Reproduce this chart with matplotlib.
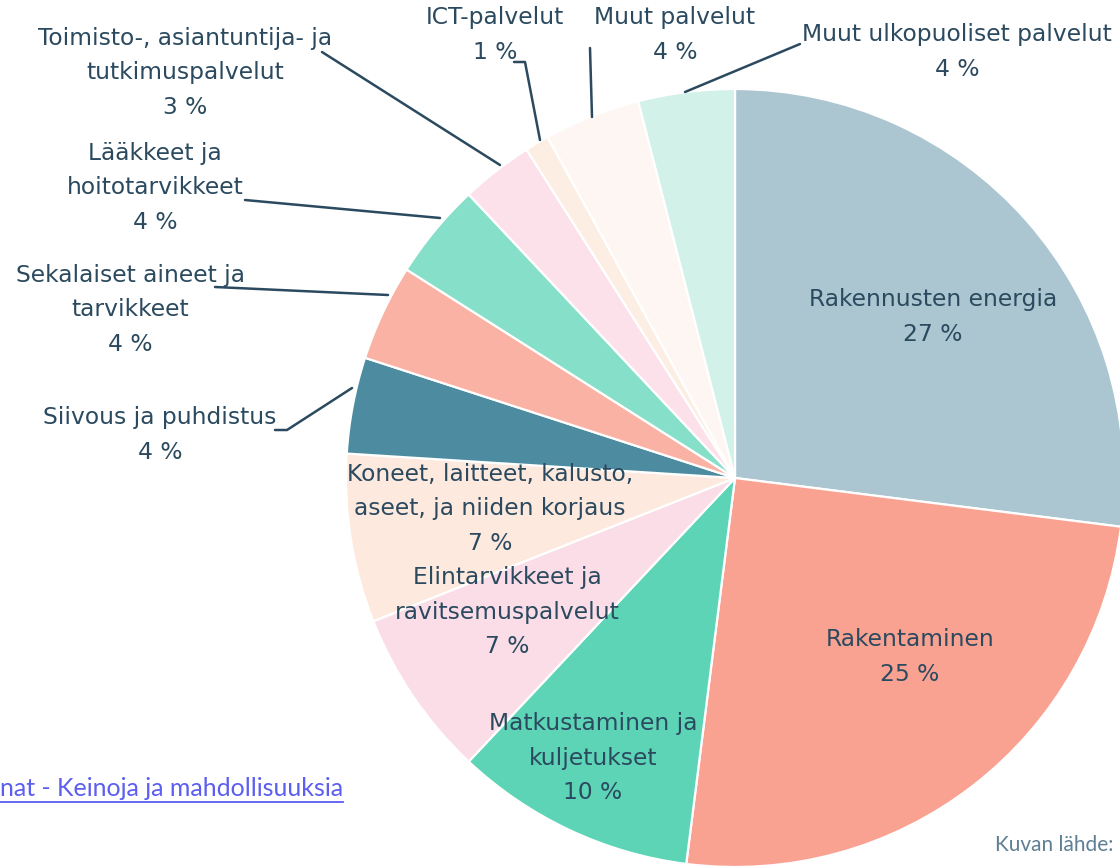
import matplotlib
matplotlib.use("Agg")
import matplotlib.pyplot as plt

# ---- data ----
categories = [
    "Rakennusten energia",
    "Rakentaminen",
    "Matkustaminen ja\nkuljetukset",
    "Elintarvikkeet ja\nravitsemuspalvelut",
    "Koneet, laitteet, kalusto,\naseet, ja niiden korjaus",
    "Siivous ja puhdistus",
    "Sekalaiset aineet ja\ntarvikkeet",
    "Lääkkeet ja\nhoitotarvikkeet",
    "Toimisto-, asiantuntija- ja\ntutkimuspalvelut",
    "ICT-palvelut",
    "Muut palvelut",
    "Muut ulkopuoliset palvelut",
]
shares = [27, 25, 10, 7, 7, 4, 4, 4, 3, 1, 4, 4]
colors = ["#abc6d0", "#f9a291", "#5cd4b5", "#fbdde8", "#fde9dd", "#4d8ca0",
          "#f9b2a4", "#86dfc8", "#fce1ea", "#fdeee4", "#fef6f2", "#d2f1e8"]
link_text = "nat - Keinoja ja mahdollisuuksia"
source_text = "Kuvan lähde:"

# ---- layout (pixel coordinates, y from top) ----
W, H = 1120, 867
center = (735, 478)
radius = 389
label_pos = [(933, 317), (910, 657), (593, 758), (507, 612), (490, 509),
             (160, 435), (130, 310), (155, 188), (185, 73), (495, 35),
             (675, 35), (957, 52)]
leaders = {
    5: [(275, 430), (287, 430), (352, 388)],
    6: [(215, 287), (388, 295)],
    7: [(245, 200), (440, 218)],
    8: [(322, 52), (500, 165)],
    9: [(514, 62), (525, 62), (540, 140)],
    10: [(590, 48), (592, 117)],
    11: [(800, 44), (685, 92)],
}

TXT = "#2b4a5f"
FONT = ["DejaVu Sans"]

fig = plt.figure(figsize=(W / 100, H / 100), dpi=100)
ax = fig.add_axes([0, 0, 1, 1])

ax.pie(shares, colors=colors, startangle=90, counterclock=False,
       center=(center[0], H - center[1]), radius=radius,
       wedgeprops=dict(edgecolor="white", linewidth=1.6))
ax.set_xlim(0, W)
ax.set_ylim(0, H)
ax.set_aspect("equal")
ax.axis("off")

for i, (cat, v) in enumerate(zip(categories, shares)):
    x, y = label_pos[i]
    ax.text(x, H - y, f"{cat}\n{v} %", ha="center", va="center",
            fontsize=16.8, color=TXT, family=FONT, linespacing=1.62)

for i, pts in leaders.items():
    xs = [p[0] for p in pts]
    ys = [H - p[1] for p in pts]
    ax.plot(xs, ys, color=TXT, lw=1.8, solid_capstyle="round")

ax.text(0, H - 789, link_text, ha="left", va="center", fontsize=18,
        color="#5b5ef0", family=["Lato", "DejaVu Sans"])
ax.plot([0, 343], [H - 802, H - 802], color="#5b5ef0", lw=1.3)
ax.text(995, H - 845, source_text, ha="left", va="center", fontsize=15,
        color="#5f7f94", family=["Lato", "DejaVu Sans"])

fig.savefig("out.png", dpi=100)
